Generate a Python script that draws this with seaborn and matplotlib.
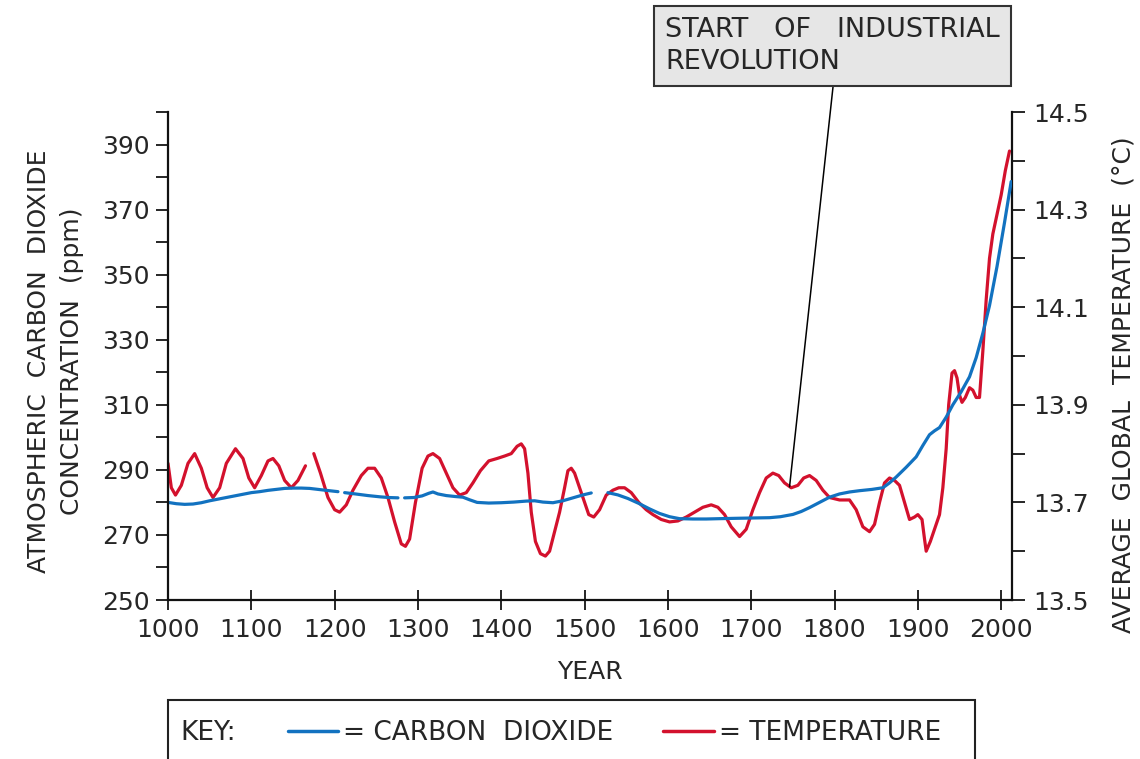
import numpy as np
import pandas as pd
import seaborn as sns
from matplotlib import pyplot as plt
from matplotlib.lines import Line2D
from matplotlib.patches import Rectangle

sns.set_style('ticks')
plt.rcParams['font.family'] = ['DejaVu Sans']

BLUE = '#1272c0'
RED = '#d3112d'

# carbon dioxide (ppm), drawn in 4 pieces as in the original
co2_seg1_year = [1000, 1010, 1020, 1030, 1040, 1050, 1060, 1070, 1080, 1090, 1100, 1110, 1120,
                 1130, 1140, 1150, 1160, 1170, 1180, 1190, 1204]
co2_seg1_ppm = [280, 279.6, 279.4, 279.5, 279.9, 280.5, 281, 281.5, 282, 282.5, 283, 283.3, 283.7,
                284, 284.3, 284.4, 284.4, 284.3, 284, 283.7, 283.3]
co2_seg2_year = [1212, 1225, 1240, 1255, 1265, 1276]
co2_seg2_ppm = [283, 282.6, 282.1, 281.7, 281.5, 281.4]
co2_seg3_year = [1284, 1295, 1305, 1313, 1318, 1324, 1334, 1345, 1354, 1362, 1371, 1385, 1400,
                 1415, 1430, 1440, 1450, 1462, 1474, 1486, 1498, 1508]
co2_seg3_ppm = [281.4, 281.5, 282, 282.8, 283.2, 282.6, 282.1, 281.8, 281.6, 280.8, 280, 279.8, 279.9,
                280.1, 280.4, 280.5, 280.1, 279.9, 280.5, 281.4, 282.3, 282.9]
co2_seg4_year = [1528, 1540, 1552, 1565, 1578, 1590, 1602, 1614, 1630, 1646, 1662, 1680, 1700,
                 1722, 1735, 1750, 1760, 1770, 1782, 1794, 1806, 1818, 1830, 1845, 1858, 1866,
                 1874, 1886, 1898, 1906, 1914, 1920, 1926, 1934, 1942, 1952, 1962, 1970, 1978,
                 1986, 1995, 2004, 2012]
co2_seg4_ppm = [283, 282.3, 281.2, 279.7, 278, 276.6, 275.6, 275, 274.9, 274.9, 275, 275.1, 275.2,
                275.3, 275.6, 276.3, 277.2, 278.4, 280, 281.6, 282.6, 283.2, 283.6, 284, 284.5, 286,
                287.8, 290.8, 294, 297.5, 300.8, 302, 303, 306.2, 310, 314, 318.6, 324.5, 332,
                340.5, 352.5, 366, 378.6]

# average global temperature (degC), 2 pieces
temp_seg1_year = [1000, 1004, 1009, 1016, 1024, 1032, 1040, 1047, 1054, 1062, 1070, 1081, 1090,
                  1097, 1104, 1112, 1120, 1126, 1133, 1140, 1148, 1156, 1165]
temp_seg1_c = [13.78, 13.73, 13.715, 13.735, 13.78, 13.80, 13.77, 13.73, 13.71, 13.73, 13.78, 13.81,
               13.79, 13.75, 13.73, 13.755, 13.785, 13.79, 13.775, 13.745, 13.73, 13.745, 13.775]
temp_seg2_year = [1175, 1183, 1192, 1200, 1206, 1214, 1222, 1232, 1240, 1248, 1256, 1264, 1272,
                  1280, 1285, 1290, 1297, 1305, 1312, 1318, 1326, 1334, 1342, 1350, 1358, 1366,
                  1375, 1385, 1395, 1404, 1412, 1419, 1424, 1428, 1432, 1436, 1441, 1447, 1453,
                  1458, 1464, 1470, 1476, 1480, 1484, 1488, 1494, 1500, 1505, 1511, 1518, 1526,
                  1534, 1541, 1548, 1556, 1565, 1574, 1582, 1592, 1602, 1612, 1622, 1632, 1642,
                  1652, 1660, 1668, 1676, 1686, 1694, 1702, 1710, 1718, 1726, 1733, 1740, 1748,
                  1756, 1763, 1770, 1778, 1786, 1794, 1806, 1818, 1826, 1834, 1842, 1848, 1854,
                  1860, 1866, 1872, 1878, 1884, 1890, 1896, 1900, 1905, 1908, 1910, 1915, 1920,
                  1926, 1930, 1934, 1937, 1941, 1944, 1947, 1950, 1953, 1957, 1962, 1966, 1970,
                  1974, 1978, 1982, 1986, 1990, 1995, 2000, 2005, 2010]
temp_seg2_c = [13.80, 13.76, 13.71, 13.685, 13.68, 13.695, 13.725, 13.755, 13.77, 13.77, 13.75, 13.71,
               13.66, 13.615, 13.61, 13.625, 13.70, 13.77, 13.795, 13.80, 13.79, 13.76, 13.73, 13.715,
               13.72, 13.74, 13.765, 13.785, 13.79, 13.795, 13.80, 13.815, 13.82, 13.81, 13.76, 13.68,
               13.62, 13.595, 13.59, 13.60, 13.64, 13.68, 13.73, 13.765, 13.77, 13.76, 13.73, 13.70,
               13.675, 13.67, 13.685, 13.715, 13.725, 13.73, 13.73, 13.72, 13.70, 13.685, 13.675,
               13.665, 13.66, 13.662, 13.67, 13.68, 13.69, 13.695, 13.69, 13.675, 13.65, 13.63,
               13.645, 13.685, 13.72, 13.75, 13.76, 13.755, 13.74, 13.73, 13.735, 13.75, 13.755,
               13.745, 13.725, 13.71, 13.705, 13.705, 13.685, 13.65, 13.64, 13.655, 13.70, 13.74,
               13.75, 13.745, 13.735, 13.70, 13.665, 13.67, 13.675, 13.665, 13.625, 13.60, 13.62,
               13.645, 13.675, 13.73, 13.81, 13.90, 13.965, 13.97, 13.955, 13.92, 13.905, 13.915,
               13.935, 13.93, 13.915, 13.915, 14.01, 14.115, 14.20, 14.25, 14.29, 14.33, 14.38, 14.42]

co2_df = pd.concat([
    pd.DataFrame({'year': y, 'ppm': v, 'seg': i})
    for i, (y, v) in enumerate([(co2_seg1_year, co2_seg1_ppm), (co2_seg2_year, co2_seg2_ppm),
                                (co2_seg3_year, co2_seg3_ppm), (co2_seg4_year, co2_seg4_ppm)])
])
temp_df = pd.concat([
    pd.DataFrame({'year': y, 'temp': v, 'seg': i})
    for i, (y, v) in enumerate([(temp_seg1_year, temp_seg1_c), (temp_seg2_year, temp_seg2_c)])
])

FS = 18
fig = plt.figure(figsize=(11.4, 7.59), dpi=100)
ax = fig.add_axes([168 / 1140, 1 - 600 / 759, (1012 - 168) / 1140, (600 - 112) / 759])
ax2 = ax.twinx()

sns.lineplot(data=temp_df, x='year', y='temp', units='seg', estimator=None,
             color=RED, lw=2.3, ax=ax2, legend=False, solid_joinstyle='round')
sns.lineplot(data=co2_df, x='year', y='ppm', units='seg', estimator=None,
             color=BLUE, lw=2.3, ax=ax, legend=False, solid_joinstyle='round')
# blue drawn over red
ax.set_zorder(2)
ax.patch.set_visible(False)

ax.set_xlim(1000, 2013)
ax.set_ylim(250, 400)
ax2.set_ylim(13.5, 14.5)

ax.set_xticks(range(1000, 2001, 100))
ax.set_yticks(range(250, 391, 20))
ax.set_yticks(range(260, 401, 20), minor=True)
ax2.set_yticks([13.5, 13.7, 13.9, 14.1, 14.3, 14.5])
ax2.set_yticks([13.6, 13.8, 14.0, 14.2, 14.4], minor=True)
ax2.set_yticklabels(['13.5', '13.7', '13.9', '14.1', '14.3', '14.5'])

for a in (ax, ax2):
    a.spines['top'].set_visible(False)
    for s in a.spines.values():
        s.set_linewidth(1.6)
        s.set_color('#111111')
ax.spines['right'].set_visible(False)
ax2.spines['left'].set_visible(False)
ax2.spines['bottom'].set_visible(False)

ax.tick_params(axis='y', which='both', direction='out', length=9, width=1.4, labelsize=FS, pad=4)
ax.tick_params(axis='x', direction='inout', length=14, width=1.4, labelsize=FS, pad=6)
ax2.tick_params(axis='y', which='both', direction='out', length=9, width=1.4, labelsize=FS, pad=6)

ax.set_xlabel('YEAR', fontsize=FS)
ax.xaxis.set_label_coords((590 - 168) / 844, -(660 - 600) / 488)
ax.set_ylabel('ATMOSPHERIC  CARBON  DIOXIDE\nCONCENTRATION  (ppm)', fontsize=FS, linespacing=1.45)
ax.yaxis.set_label_coords(-(168 - 84) / 844, 0.49)
ax2.set_ylabel('AVERAGE  GLOBAL  TEMPERATURE  (°C)', fontsize=FS, rotation=90)
ax2.yaxis.set_label_coords((1112 - 168) / 844, (600 - 385) / 488)

# annotation
fig.text(665 / 1140, 1 - 46 / 759, 'START   OF   INDUSTRIAL\nREVOLUTION', fontsize=19.5,
         ha='left', va='center', linespacing=1.3,
         bbox=dict(boxstyle='square,pad=0.42', fc='#e6e6e6', ec='#333333', lw=1.5))
ax2.annotate('', xy=(1746, 13.732), xycoords='data',
             xytext=(833 / 1140, 1 - 87 / 759), textcoords='figure fraction',
             arrowprops=dict(arrowstyle='-', color='black', lw=1.1, shrinkA=0, shrinkB=0),
             annotation_clip=False)

# key
fig.patches.append(Rectangle((168 / 1140, -0.05), (975 - 168) / 1140, (759 - 700) / 759 + 0.05,
                             transform=fig.transFigure, fill=False, ec='#222222', lw=1.5))
fig.text(180 / 1140, 1 - 733 / 759, 'KEY:', fontsize=19, ha='left', va='center')
handles = [Line2D([], [], color=BLUE, lw=2.5), Line2D([], [], color=RED, lw=2.5)]
fig.legend(handles, ['= CARBON  DIOXIDE', '= TEMPERATURE'], ncol=2, frameon=False,
           loc='center left', bbox_to_anchor=(264 / 1140, 1 - 733 / 759), fontsize=19,
           handlelength=1.9, handletextpad=0.2, columnspacing=1.9)

fig.savefig('out.png', dpi=100)
